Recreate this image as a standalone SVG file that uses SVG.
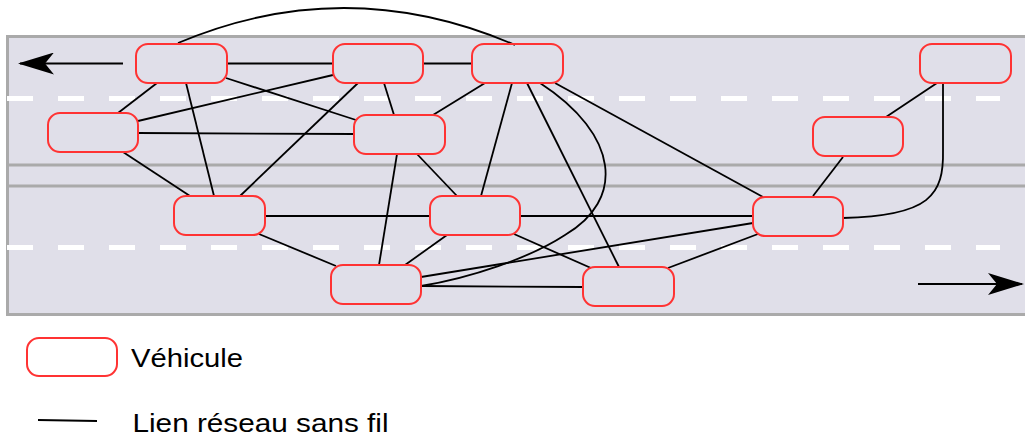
<svg xmlns="http://www.w3.org/2000/svg" width="1025" height="440" viewBox="0 0 1025 440">
<style>
.road{fill:#e0dfe9;stroke:#aaaaaa;stroke-width:3}
.med{stroke:#aaaaaa;stroke-width:3;fill:none}
.dash{stroke:#ffffff;stroke-width:5;stroke-dasharray:26 25;fill:none}
.veh{fill:none;stroke:#ff3333;stroke-width:2}
.link{stroke:#000;stroke-width:1.8;fill:none}
.arr{stroke:#000;stroke-width:2;fill:none}
.lbl{font-family:"Liberation Sans",Arial,sans-serif;font-size:25px;fill:#000}
</style>
<defs>
<marker id="ah" viewBox="0 0 36 22" refX="34" refY="11" markerWidth="36" markerHeight="22" markerUnits="userSpaceOnUse" orient="auto">
<path d="M0,0 L36,11 L0,22 L9,11 Z" fill="#000"/>
</marker>
</defs>
<g id="road">
<rect class="road" x="7.5" y="36.5" width="1030" height="278"/>
<line class="med" x1="7" y1="165" x2="1025" y2="165"/>
<line class="med" x1="7" y1="186" x2="1025" y2="186"/>
<line class="dash" x1="7" y1="98.5" x2="1000" y2="98.5"/>
<line class="dash" x1="7" y1="247.5" x2="1000" y2="247.5"/>
<line class="arr" x1="123" y1="63.5" x2="20" y2="63.5" marker-end="url(#ah)"/>
<line class="arr" x1="918" y1="284" x2="1022" y2="284" marker-end="url(#ah)"/>
</g>
<g id="connectors">
<path class="link" d="M178,43 Q346,-28 515,45"/>
<line class="link" x1="227" y1="63.5" x2="333" y2="63.5"/>
<line class="link" x1="423" y1="63.5" x2="472" y2="63.5"/>
<line class="link" x1="157" y1="83" x2="118" y2="113"/>
<line class="link" x1="226" y1="78" x2="356" y2="120"/>
<line class="link" x1="138" y1="121" x2="333" y2="75"/>
<line class="link" x1="138" y1="133" x2="354" y2="134"/>
<line class="link" x1="186" y1="83" x2="214" y2="196"/>
<line class="link" x1="123" y1="152" x2="190" y2="196"/>
<line class="link" x1="358" y1="83" x2="240" y2="196"/>
<line class="link" x1="384" y1="83" x2="394" y2="115"/>
<line class="link" x1="485" y1="83" x2="433" y2="115"/>
<line class="link" x1="512" y1="83" x2="481" y2="196"/>
<line class="link" x1="527" y1="83" x2="619" y2="267"/>
<path class="link" d="M540,83 C620,135 625,200 565,235 C530,258 470,278 421,286"/>
<line class="link" x1="555" y1="83" x2="763" y2="197"/>
<line class="link" x1="265" y1="216" x2="430" y2="216"/>
<line class="link" x1="520" y1="216" x2="753" y2="216"/>
<line class="link" x1="397" y1="154" x2="379" y2="265"/>
<line class="link" x1="417" y1="154" x2="457" y2="196"/>
<line class="link" x1="259" y1="234" x2="336" y2="266"/>
<line class="link" x1="447" y1="235" x2="405" y2="265"/>
<line class="link" x1="514" y1="234" x2="591" y2="268"/>
<line class="link" x1="421" y1="277" x2="753" y2="223"/>
<line class="link" x1="421" y1="286" x2="583" y2="287"/>
<line class="link" x1="668" y1="268" x2="758" y2="234"/>
<line class="link" x1="813" y1="196" x2="843" y2="157"/>
<line class="link" x1="886" y1="117" x2="937" y2="83"/>
<path class="link" d="M843,218 C930,216 944,195 943,150 L943,83"/>
</g>
<g id="vA"><rect class="veh" x="136" y="44" width="91" height="39" rx="12"/></g>
<g id="vB"><rect class="veh" x="48" y="113" width="90" height="39" rx="12"/></g>
<g id="vC"><rect class="veh" x="333" y="44" width="90" height="39" rx="12"/></g>
<g id="vD"><rect class="veh" x="472" y="44" width="91" height="39" rx="12"/></g>
<g id="vE"><rect class="veh" x="354" y="115" width="91" height="39" rx="12"/></g>
<g id="vF"><rect class="veh" x="920" y="44" width="91" height="39" rx="12"/></g>
<g id="vG"><rect class="veh" x="813" y="117" width="90" height="39" rx="12"/></g>
<g id="vH"><rect class="veh" x="753" y="197" width="90" height="39" rx="12"/></g>
<g id="vI"><rect class="veh" x="174" y="196" width="91" height="39" rx="12"/></g>
<g id="vJ"><rect class="veh" x="430" y="196" width="90" height="39" rx="12"/></g>
<g id="vK"><rect class="veh" x="331" y="265" width="90" height="39" rx="12"/></g>
<g id="vL"><rect class="veh" x="583" y="267" width="91" height="39" rx="12"/></g>
<g id="legend">
<rect class="veh" x="27" y="338" width="90" height="38" rx="12" style="fill:#fff"/>
<text class="lbl" x="131" y="367" textLength="112" lengthAdjust="spacingAndGlyphs">Véhicule</text>
<path class="link" d="M38,420 L97,421"/>
<text class="lbl" x="132.5" y="432" textLength="256" lengthAdjust="spacingAndGlyphs">Lien réseau sans fil</text>
</g>
</svg>
